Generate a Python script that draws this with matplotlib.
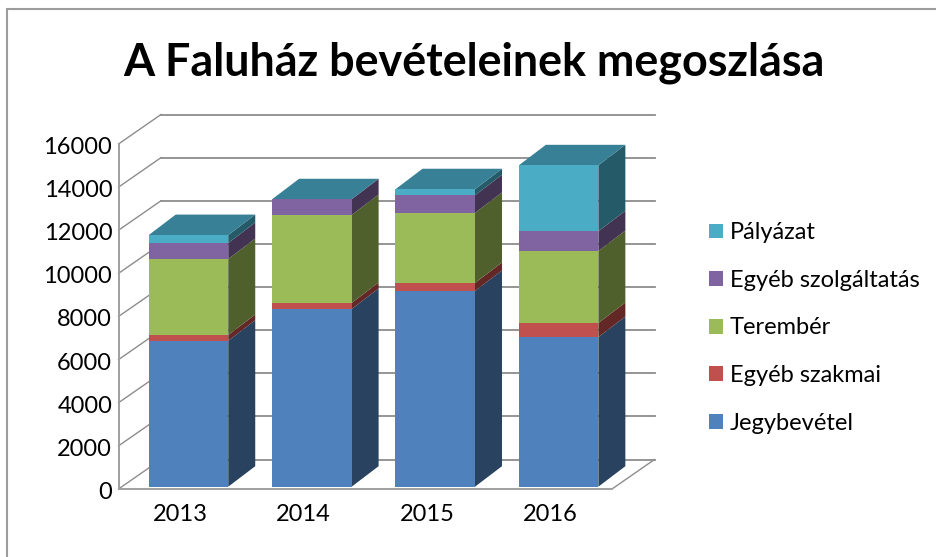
import matplotlib
matplotlib.use("Agg")
import matplotlib.pyplot as plt
from matplotlib.patches import Patch, Rectangle
from matplotlib.transforms import ScaledTranslation

plt.rcParams['font.family'] = ['Lato', 'DejaVu Sans']

years = ['2013', '2014', '2015', '2016']
series_names = ['Jegybevétel', 'Egyéb szakmai', 'Terembér', 'Egyéb szolgáltatás', 'Pályázat']
jegybevetel = [6770, 8240, 9080, 6940]
egyeb_szakmai = [265, 280, 370, 650]
terember = [3525, 4080, 3245, 3340]
egyeb_szolg = [740, 730, 820, 915]
palyazat = [370, 0, 280, 3060]
series = [jegybevetel, egyeb_szakmai, terember, egyeb_szolg, palyazat]
y_ticks = list(range(0, 16001, 2000))

front_col = ['#4F81BD', '#C0504D', '#9BBB59', '#8064A2', '#4BACC6']
side_col = ['#294260', '#632826', '#4F602C', '#423353', '#255A68']
top_col = '#388096'
grid_col = '#8C8C8C'

W, H = 936, 557
fig = plt.figure(figsize=(W / 100, H / 100), dpi=100, facecolor='white')
L, R, B, T = 118.5, 612.0, 489.0, 144.0
ax = fig.add_axes([L / W, 1 - B / H, (R - L) / W, (B - T) / H])
ax.patch.set_alpha(0)
ax.set_xlim(0, 4)
ax.set_ylim(0, 16000)
px = 4 / (R - L)
py = 16000 / (B - T)

# outer frame
fig.add_artist(Rectangle((7 / W, -0.02), 1.1, 1 - 9 / H + 0.02, transform=fig.transFigure,
                         fill=False, edgecolor='#9C9C9C', lw=1.5))

# walls
wx, wy = 42.5 * px, 29.5 * py
for v in y_ticks:
    ax.plot([0, wx], [v, v + wy], color=grid_col, lw=1.0, clip_on=False, zorder=1)
    ax.plot([wx, 4 + wx], [v + wy, v + wy], color=grid_col, lw=1.3, clip_on=False, zorder=1)
ax.plot([4, 4 + wx], [0, wy], color=grid_col, lw=1.0, clip_on=False, zorder=1)

# 3D bars
shift_x, shift_y = 8.3 * px, 2.3 * py
bar_w = 79.5 * px
dx, dy = 27 * px, 20.5 * py
for i in range(len(years)):
    x0 = i + 0.5 + shift_x - bar_w / 2
    x1 = x0 + bar_w
    base = shift_y
    for vals, fc, sc in zip(series, front_col, side_col):
        h = vals[i]
        top = base + h
        if h > 0:
            ax.fill([x1, x1 + dx, x1 + dx, x1], [base, base + dy, top + dy, top],
                    color=sc, lw=0, clip_on=False, zorder=3)
            ax.bar(x0, h, width=bar_w, bottom=base, align='edge', color=fc, lw=0,
                   clip_on=False, zorder=4)
        base = top
    ax.fill([x0, x0 + dx, x1 + dx, x1], [base, base + dy, base + dy, base],
            color=top_col, lw=0, clip_on=False, zorder=3)

for s in ['top', 'right']:
    ax.spines[s].set_visible(False)
for s in ['left', 'bottom']:
    ax.spines[s].set_color('#A0A0A0')
    ax.spines[s].set_linewidth(1.4)
    ax.spines[s].set_zorder(5)

ax.set_xticks([i + 0.5 for i in range(len(years))], years)
ax.set_yticks(y_ticks)
ax.tick_params(axis='x', length=0, pad=11, labelsize=17, labelcolor='black')
ax.tick_params(axis='y', length=0, pad=4.5, labelsize=17, labelcolor='black')
down = ScaledTranslation(0, -1.5 / 100, fig.dpi_scale_trans)
for lab in ax.get_yticklabels():
    lab.set_transform(lab.get_transform() + down)

fig.text(474 / W, 1 - 63 / H, 'A Faluház bevételeinek megoszlása', ha='center', va='center',
         fontsize=32.3, fontweight='bold', color='black')

handles = [Patch(facecolor=c, edgecolor='none') for c in front_col][::-1]
fs = 17
fpx = fs * 100 / 72
leg = fig.legend(handles, series_names[::-1], loc='center left',
                 bbox_to_anchor=(709 / W, 1 - 328 / H), frameon=False, fontsize=fs,
                 handlelength=14 / fpx, handleheight=14 / fpx, handletextpad=7 / fpx,
                 labelspacing=(50.2 - fpx * 1.0) / fpx, borderpad=0, borderaxespad=0)

fig.savefig('out.png', dpi=100)
